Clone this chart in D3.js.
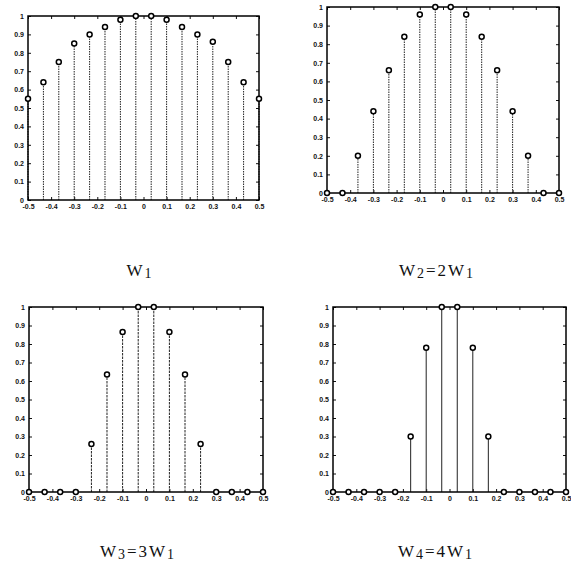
<!DOCTYPE html>
<html>
<head>
<meta charset="utf-8">
<style>
    body { margin: 0; background: #fff; }
    svg { display: block; }
    .tick text { font-family: "Liberation Sans", Arial, sans-serif; font-size: 7px; font-weight: bold; fill: #111; }
    .title { font-family: "Liberation Serif", "Times New Roman", serif; font-size: 17px; fill: #111; letter-spacing: 2px; }
</style>
</head>
<body>
<svg width="571" height="570"></svg>
<script src="https://cdnjs.cloudflare.com/ajax/libs/d3/7.8.5/d3.min.js"></script>
<script>
    // sample frequencies (same for every panel)
    let freq = [-0.5, -0.4333, -0.3667, -0.3, -0.2333, -0.1667, -0.1, -0.0333,
                0.0333, 0.1, 0.1667, 0.2333, 0.3, 0.3667, 0.4333, 0.5]

    let w1 = [0.55, 0.64, 0.75, 0.85, 0.90, 0.94, 0.98, 1.0, 1.0, 0.98, 0.94, 0.90, 0.86, 0.75, 0.64, 0.55]
    let w2 = [0, 0, 0.20, 0.44, 0.66, 0.84, 0.96, 1.0, 1.0, 0.96, 0.84, 0.66, 0.44, 0.20, 0, 0]
    let w3 = [0, 0, 0, 0, 0.26, 0.635, 0.865, 1.0, 1.0, 0.865, 0.635, 0.26, 0, 0, 0, 0]
    let w4 = [0, 0, 0, 0, 0, 0.30, 0.78, 1.0, 1.0, 0.78, 0.30, 0, 0, 0, 0, 0]

    let xTicks = [-0.5, -0.4, -0.3, -0.2, -0.1, 0, 0.1, 0.2, 0.3, 0.4, 0.5]
    let xLabels = ["-0.5", "-0.4", "-0.3", "-0.2", "-0.1", "0", "0.1", "0.2", "0.3", "0.4", "0.5"]
    let yTicks = [0, 0.1, 0.2, 0.3, 0.4, 0.5, 0.6, 0.7, 0.8, 0.9, 1]
    let yLabels = ["0", "0.1", "0.2", "0.3", "0.4", "0.5", "0.6", "0.7", "0.8", "0.9", "1"]

    let titles = [
        {main: "W", sub: "1", rest: []},
        {main: "W", sub: "2", rest: ["=2W", "1"]},
        {main: "W", sub: "3", rest: ["=3W", "1"]},
        {main: "W", sub: "4", rest: ["=4W", "1"]}
    ]

    // panel boxes: left, right, top, bottom; title centre
    let panels = [
        {vals: w1, l: 28, r: 259, t: 16, b: 200, tx: 140, ty: 276, dash: "1.5,1"},
        {vals: w2, l: 327, r: 559, t: 7, b: 193, tx: 437, ty: 276, dash: "1.5,1"},
        {vals: w3, l: 29, r: 263, t: 307, b: 492, tx: 138, ty: 557, dash: "2.5,1"},
        {vals: w4, l: 333, r: 566, t: 307, b: 492, tx: 436, ty: 557, dash: null}
    ]

    let svg = d3.select("svg")

    panels.forEach((p, i) => {
        let x = d3.scaleLinear().domain([-0.5, 0.5]).range([p.l, p.r])
        let y = d3.scaleLinear().domain([0, 1]).range([p.b, p.t])
        let g = svg.append("g")

        // ticks on all four sides, pointing inwards
        g.append("g")
            .attr("transform", `translate(0,${p.b})`)
            .call(d3.axisBottom(x).tickValues(xTicks).tickFormat((d, k) => xLabels[k]).tickSizeInner(-3).tickSizeOuter(0).tickPadding(4))
            .call(a => a.select(".domain").remove())
        g.append("g")
            .attr("transform", `translate(${p.l},0)`)
            .call(d3.axisLeft(y).tickValues(yTicks).tickFormat((d, k) => yLabels[k]).tickSizeInner(-3).tickSizeOuter(0).tickPadding(4))
            .call(a => a.select(".domain").remove())
        g.append("g")
            .attr("transform", `translate(0,${p.t})`)
            .call(d3.axisTop(x).tickValues(xTicks).tickFormat("").tickSizeInner(-3).tickSizeOuter(0))
            .call(a => a.select(".domain").remove())
        g.append("g")
            .attr("transform", `translate(${p.r},0)`)
            .call(d3.axisRight(y).tickValues(yTicks).tickFormat("").tickSizeInner(-3).tickSizeOuter(0))
            .call(a => a.select(".domain").remove())
        g.selectAll(".tick line").attr("stroke", "#111")

        let pts = freq.map((f, k) => ({f: f, v: p.vals[k]}))

        g.selectAll(".stem")
            .data(pts)
            .join("line")
            .attr("class", "stem")
            .attr("x1", d => x(d.f)).attr("x2", d => x(d.f))
            .attr("y1", y(0)).attr("y2", d => y(d.v))
            .attr("stroke", "#222")
            .attr("stroke-width", 1)
            .attr("stroke-dasharray", p.dash)

        g.append("rect")
            .attr("x", p.l).attr("y", p.t)
            .attr("width", p.r - p.l).attr("height", p.b - p.t)
            .attr("fill", "none")
            .attr("stroke", "#000")
            .attr("stroke-width", 1.5)

        g.selectAll(".mark")
            .data(pts)
            .join("circle")
            .attr("class", "mark")
            .attr("cx", d => x(d.f))
            .attr("cy", d => y(d.v))
            .attr("r", 2.5)
            .attr("fill", "#fff")
            .attr("stroke", "#000")
            .attr("stroke-width", 1.5)

        let t = titles[i]
        let txt = svg.append("text")
            .attr("class", "title")
            .attr("x", p.tx).attr("y", p.ty)
            .attr("text-anchor", "middle")
        txt.append("tspan").text(t.main)
        txt.append("tspan").attr("font-size", "14px").attr("dy", 2).text(t.sub)
        if (t.rest.length) {
            txt.append("tspan").attr("dy", -2).text(t.rest[0])
            txt.append("tspan").attr("font-size", "14px").attr("dy", 2).text(t.rest[1])
        }
    })
</script>
</body>
</html>
